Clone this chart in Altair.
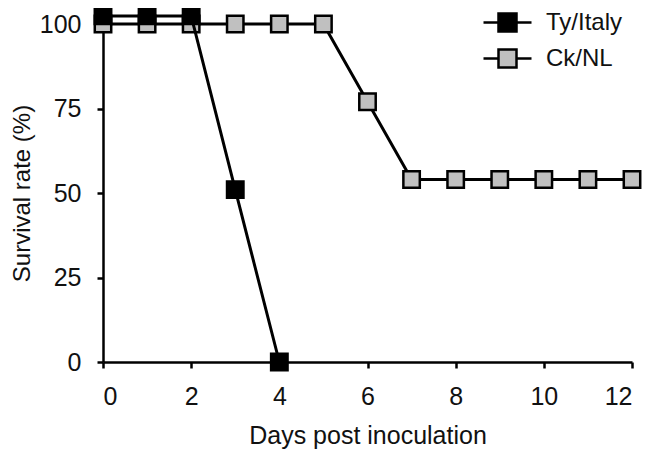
import altair as alt
import pandas as pd

days = [0, 1, 2, 3, 4, 5, 6, 7, 8, 9, 10, 11, 12]
ty_days = [0, 1, 2, 3, 4]
ty_survival = [102.4, 102.4, 102.4, 51, 0]
ck_days = days
ck_survival = [100, 100, 100, 100, 100, 100, 77, 54, 54, 54, 54, 54, 54]
series = ["Ty/Italy", "Ck/NL"]
fills = ["#000000", "#c0c0c0"]
x_ticks = [0, 2, 4, 6, 8, 10, 12]
y_ticks = [0, 25, 50, 75, 100]

df = pd.concat([
    pd.DataFrame({"day": ty_days, "survival": ty_survival, "strain": series[0]}),
    pd.DataFrame({"day": ck_days, "survival": ck_survival, "strain": series[1]}),
])

FONT = "Liberation Sans"
sym = "M-2,0H-0.75M0.75,0H2M-0.75,-0.75H0.75V0.75H-0.75Z"

x = alt.X("day:Q", scale=alt.Scale(domain=[0, 12], nice=False),
          axis=alt.Axis(values=x_ticks, title="Days post inoculation",
                        labelPadding=16, titlePadding=14, titleFontSize=25))
y = alt.Y("survival:Q", scale=alt.Scale(domain=[0, 100], nice=False),
          axis=alt.Axis(values=y_ticks, title="Survival rate (%)",
                        labelPadding=16, titlePadding=5, titleFontSize=24))
fill = alt.Fill("strain:N", scale=alt.Scale(domain=series, range=fills),
                sort=series,
                legend=alt.Legend(title=None, orient="none", legendX=391, legendY=-15,
                                  symbolType=sym, symbolSize=576,
                                  symbolStrokeColor="black", symbolStrokeWidth=2.5,
                                  labelFontSize=24, labelFont=FONT, labelColor="#111111",
                                  labelOffset=25, rowPadding=7))

base = alt.Chart(df)
layers = []
for s in ["Ck/NL", "Ty/Italy"]:
    sub = base.transform_filter(alt.datum.strain == s)
    layers.append(sub.mark_line(color="black", strokeWidth=3, clip=False).encode(x=x, y=y))
    layers.append(sub.mark_square(size=270, stroke="black", strokeWidth=2.5, opacity=1,
                                  filled=True, clip=False).encode(x=x, y=y, fill=fill))

chart = alt.layer(*layers).properties(
    width=529, height=338,
    autosize=alt.AutoSizeParams(type="none"),
    padding={"left": 95, "top": 16, "right": 13, "bottom": 91},
).configure_view(stroke=None).configure_axis(
    grid=False, domainColor="black", domainWidth=2.5, tickColor="black", tickWidth=2.5,
    tickSize=6, labelFont=FONT, labelFontSize=25, labelColor="#111111",
    titleFont=FONT, titleColor="#111111", titleFontWeight="normal",
).configure_axisX(labelAngle=0)

chart.save("out.html", embed_options={"renderer": "svg", "actions": False})
